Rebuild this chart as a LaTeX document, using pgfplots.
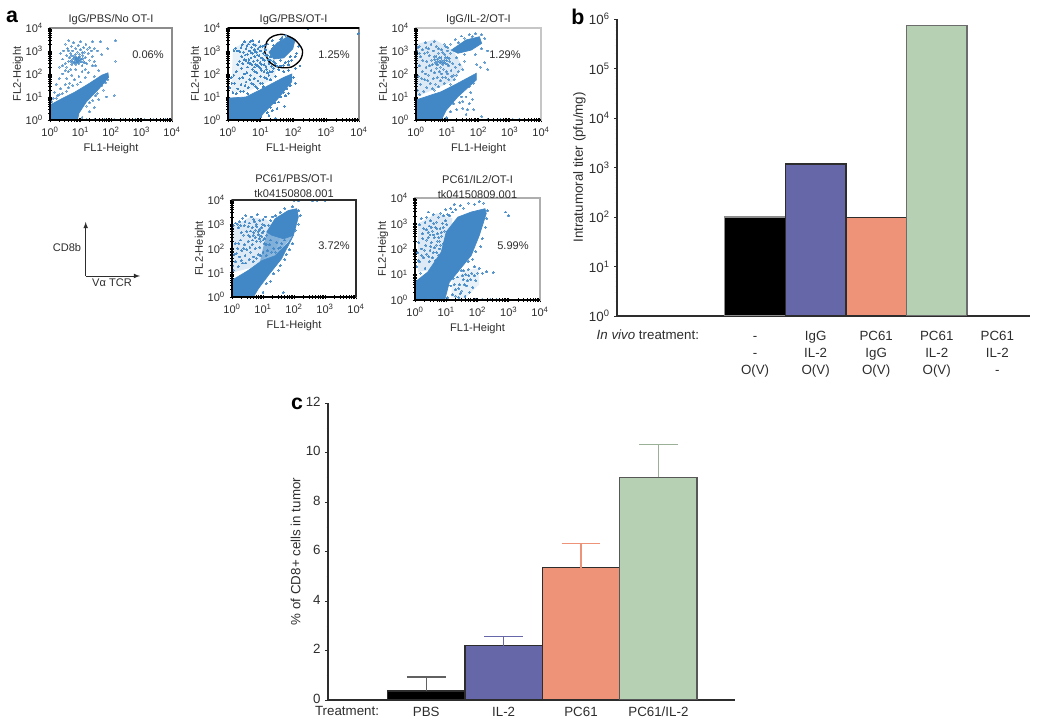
\documentclass[border=0pt]{standalone}
\usepackage{fontspec}
\setmainfont{Liberation Sans}
\usepackage{pgfplots}
\pgfplotsset{compat=1.18}
\definecolor{fc}{RGB}{66,136,198}
\definecolor{axg}{RGB}{140,140,140}
\definecolor{dk}{RGB}{45,45,45}
\definecolor{txt}{RGB}{45,45,45}
\definecolor{bblue}{RGB}{101,103,168}
\definecolor{bsalm}{RGB}{238,146,120}
\definecolor{bgreen}{RGB}{181,208,179}
\newcommand{\fa}{\fontsize{8.3}{11}\selectfont}
\newcommand{\fb}{\fontsize{10}{12.75}\selectfont}
% scatter panels: values are log10 of the channel
\pgfplotsset{
  facs/.style={
    scale only axis, xmin=0, xmax=4, ymin=0, ymax=4,
    xtick={0,1,2,3,4}, ytick={0,1,2,3,4},
    xticklabels={10\textsuperscript{0},10\textsuperscript{1},10\textsuperscript{2},10\textsuperscript{3},10\textsuperscript{4}},
    yticklabels={10\textsuperscript{0},10\textsuperscript{1},10\textsuperscript{2},10\textsuperscript{3},10\textsuperscript{4}},
    minor xtick={0.3,0.48,0.6,0.7,0.78,0.85,0.9,0.95,1.3,1.48,1.6,1.7,1.78,1.85,1.9,1.95,2.3,2.48,2.6,2.7,2.78,2.85,2.9,2.95,3.3,3.48,3.6,3.7,3.78,3.85,3.9,3.95},
    minor ytick={0.3,0.48,0.6,0.7,0.78,0.85,0.9,0.95,1.3,1.48,1.6,1.7,1.78,1.85,1.9,1.95,2.3,2.48,2.6,2.7,2.78,2.85,2.9,2.95,3.3,3.48,3.6,3.7,3.78,3.85,3.9,3.95},
    tick pos=left, tick align=center,
    major tick length=3.5pt, minor tick length=2.4pt,
    tick style={black, line width=.7pt}, minor tick style={black, line width=.4pt},
    axis line style={axg, line width=.9pt},
    tick label style={font=\fa, text=txt},
    xlabel={FL1-Height}, ylabel={FL2-Height},
    every axis x label/.style={font=\fa, text=txt, at={(axis description cs:0.5,0)},anchor=north,yshift=-14pt},
    every axis y label/.style={font=\fa, text=txt, at={(axis description cs:0,0.5)},xshift=-16.5pt,rotate=90,anchor=south},
    title style={font=\fa, text=txt, align=center, yshift=-7.5pt},
    after end axis/.code={\draw[black,line width=.9pt] (rel axis cs:0,1)--(rel axis cs:0,0)--(rel axis cs:1,0);},
  },
  pts/.style={only marks, color=fc, mark=*, mark size=.72pt, mark options={fill=fc, draw=fc, line width=0pt}, forget plot},
  dense/.style={fill=fc, draw=fc, line width=.5pt, forget plot},
  haze/.style={fill=fc, fill opacity=.18, draw=none, forget plot},
  barax/.style={
    scale only axis, axis lines=left, axis line style={-, dk, line width=.9pt},
    /pgf/number format/assume math mode=true,
    tick label style={font=\fb, text=txt},
    xtick style={draw=none}, ytick style={dk},
    major tick length=2pt, minor tick length=1pt, tick align=outside,
  },
  bx/.style={ybar, bar width=1, bar shift=0pt, draw=#1, line width=1pt},
}
\begin{document}
\begin{tikzpicture}
\path[use as bounding box] (0,0) rectangle (787.5pt,542.25pt);

% a1
\begin{axis}[facs, at={(37.5pt,452.25pt)}, width=91.5pt, height=69pt, title={IgG/PBS/No OT-I}]
\addplot[dense] coordinates {(0,0) (0,0.65) (0.35,0.9) (0.8,1.2) (1.3,1.6) (1.7,1.95) (1.9,2.05) (1.92,1.85) (1.6,1.35) (1.2,0.8) (0.95,0.3) (0.9,0) (0,0)};
\addplot[pts, opacity=.5] coordinates {
(0.3,2.3)(0.35,2.9)(0.42,2.65)(0.45,3.0)(0.5,2.45)(0.5,3.3)(0.55,2.8)(0.58,3.1)(0.6,2.55)(0.62,3.45)(0.65,2.7)(0.68,2.9)(0.7,3.2)(0.72,2.4)(0.72,2.6)(0.75,3.0)(0.78,2.75)(0.78,3.35)(0.8,2.55)(0.82,2.65)(0.83,2.85)(0.85,3.1)(0.87,2.5)(0.88,2.7)(0.9,2.6)(0.9,2.95)(0.92,3.25)(0.94,2.45)(0.95,2.7)(0.97,2.85)(0.98,2.55)(1.0,3.05)(1.0,3.4)(1.03,2.65)(1.05,2.35)(1.07,2.8)(1.1,2.55)(1.1,3.15)(1.13,2.95)(1.15,2.7)(1.18,3.3)(1.2,2.45)(1.25,2.9)(1.3,2.6)(1.3,3.15)(1.38,2.75)(1.4,3.4)(1.45,3.1)(1.5,2.35)(1.55,3.0)(1.65,3.4)(1.7,2.85)(1.9,3.1)(2.15,3.45)(2.15,2.55)
(0.86,2.62)(0.92,2.68)(0.8,2.48)(0.95,2.58)(1.02,2.52)(0.76,2.66)(0.85,2.42)(0.98,2.74)(1.08,2.66)(0.66,2.56)(0.9,2.52)(0.84,2.72)(0.74,2.5)(1.0,2.62)(0.88,2.58)(1.12,2.48)(0.7,2.8)(1.06,2.92)(0.6,3.0)(1.22,3.08)(1.45,2.55)(0.4,2.35)(0.55,2.3)(1.35,3.0)
(0.15,1.2)(0.2,1.55)(0.3,1.8)(0.35,1.35)(0.42,2.0)(0.5,1.55)(0.55,1.8)(0.6,2.1)(0.65,1.6)(0.72,1.95)(0.8,1.75)(0.85,2.2)(0.95,1.9)(1.05,2.1)(1.15,2.2)(1.25,2.05)(1.4,2.35)(0.25,1.05)(0.1,0.95)(0.4,1.15)(0.6,1.4)(0.9,1.55)(0.68,2.2)(0.5,2.15)(1.0,1.65)(1.15,1.85)(0.75,1.5)(0.3,1.1)(0.55,1.25)(0.05,0.8)(0.2,0.95)(1.45,1.9)(1.6,2.15)
(1.2,0.6)(1.4,0.85)(1.55,1.15)(1.6,0.9)(1.75,1.3)(1.85,1.0)(2.1,1.05)(1.9,1.75)(1.05,0.12)(1.3,0.35)(1.45,0.55)(1.3,0.75)(1.5,1.05)(1.7,1.5)(1.82,1.62)
(1.2,0.03)(1.45,0.03)(1.8,0.03)(2.1,0.03)(2.4,0.03)(2.8,0.03)(3.1,0.03)(3.4,0.03)(3.8,0.03)
};
\end{axis}

% a2
\begin{axis}[facs, at={(171pt,452.25pt)}, width=98.25pt, height=69pt, title={IgG/PBS/OT-I},
  after end axis/.append code={\draw[black,line width=1.1pt] (rel axis cs:0,1)--(rel axis cs:1,1);}]
\addplot[haze, fill opacity=.12] coordinates {(0.1,1.2) (0.15,3.1) (0.6,3.45) (1.2,3.2) (1.5,2.4) (1.4,1.8) (0.7,1.3) (0.1,1.2)};
\addplot[dense] coordinates {(0,0) (0,0.95) (0.55,1.0) (0.9,1.25) (1.3,1.55) (1.7,1.85) (1.95,2.0) (1.95,1.67) (1.49,0.87) (1.08,0.29) (0.93,0) (0,0)};
\addplot[dense] coordinates {(1.25,2.95) (1.5,3.35) (1.85,3.65) (2.05,3.5) (1.98,3.1) (1.7,2.7) (1.4,2.65) (1.25,2.95)};
\addplot[pts, mark size=.65pt] coordinates {
(0.3,3.0)(0.4,3.15)(0.42,2.75)(0.48,2.95)(0.5,3.4)(0.55,3.1)(0.55,2.6)(0.6,2.85)(0.62,3.3)(0.65,3.0)(0.68,2.45)(0.7,2.7)(0.72,3.15)(0.75,2.9)(0.75,3.45)(0.78,2.55)(0.8,3.05)(0.82,2.75)(0.85,3.25)(0.85,2.4)(0.88,2.95)(0.9,2.6)(0.92,3.1)(0.95,2.8)(0.95,3.4)(0.98,2.5)(1.0,3.0)(1.0,2.25)(1.03,2.7)(1.05,3.2)(1.08,2.9)(1.1,2.4)(1.12,2.6)(1.15,3.05)(1.18,2.2)(1.2,2.8)(1.22,3.3)(1.25,2.45)(1.28,2.1)(1.3,2.6)(1.35,3.45)
(0.18,3.02)(0.24,3.12)(0.36,2.98)(0.44,3.28)(0.52,2.82)(0.58,3.22)(0.64,2.62)(0.7,2.95)(0.78,3.28)(0.83,2.98)(0.9,2.82)(0.98,3.18)(1.02,2.42)(1.08,2.62)(1.14,2.82)(1.16,2.34)(1.23,2.62)(1.32,2.34)(0.73,2.42)(0.8,2.3)(0.9,2.36)(0.62,2.5)(0.5,2.62)(0.45,2.45)(0.35,2.55)(0.68,3.4)(1.12,3.25)
(0.05,1.4)(0.1,1.85)(0.15,1.2)(0.2,1.6)(0.25,2.1)(0.3,1.35)(0.3,2.4)(0.35,1.8)(0.4,1.55)(0.42,2.25)(0.48,1.25)(0.5,2.0)(0.55,1.65)(0.6,2.3)(0.62,1.4)(0.68,1.95)(0.72,1.6)(0.75,2.2)(0.8,1.8)(0.85,1.45)(0.88,2.05)(0.92,1.7)(0.95,2.3)(1.0,1.9)(1.05,1.6)(1.1,2.1)(1.18,1.8)(1.25,1.95)(1.35,2.1)(1.45,1.9)(1.55,2.2)(1.7,2.1)(1.85,2.15)(2.05,2.25)(2.2,2.35)
(0.12,1.6)(0.18,1.95)(0.25,1.15)(0.38,1.25)(0.45,1.85)(0.52,1.5)(0.58,2.05)(0.66,1.75)(0.78,1.55)(0.82,2.1)(0.98,1.6)(1.12,1.85)(1.2,2.05)(1.3,1.75)(1.4,2.25)(0.6,1.15)(0.9,1.38)(1.08,1.45)(1.02,2.15)
(1.45,2.45)(1.6,2.35)(1.75,2.5)(1.5,3.2)(1.35,3.1)(1.4,2.55)(1.6,2.6)(1.85,2.4)(1.95,2.6)(2.1,2.9)(2.15,3.2)(1.6,3.5)(1.75,3.68)(2.05,2.75)(1.5,2.35)(1.7,2.38)(1.9,2.75)(1.3,2.75)(1.85,2.55)(1.65,3.6)(1.4,3.25)
(1.0,0.15)(1.15,0.45)(1.25,0.2)(1.3,0.55)(1.42,0.75)(1.5,0.5)(1.6,1.0)(1.7,1.2)(1.8,1.35)(1.9,1.5)(2.0,1.85)(2.05,1.6)(1.72,0.6)(1.45,0.08)(1.2,0.32)(1.35,0.4)(1.55,0.78)(1.75,1.05)(1.85,1.15)
(3.98,3.75)(2.45,3.98)
};
\addplot[black, line width=1pt, smooth, mark=none, forget plot] coordinates {(1.12,2.98) (1.19,3.42) (1.37,3.64) (1.68,3.72) (2.04,3.49) (2.27,3.05) (2.21,2.62) (1.93,2.30) (1.53,2.30) (1.25,2.55) (1.12,2.98)};
\end{axis}

% a3
\begin{axis}[facs, at={(312pt,452.25pt)}, width=93.75pt, height=69pt, title={IgG/IL-2/OT-I},
  axis line style={axg!50, line width=.8pt}]
\addplot[haze] coordinates {(0,1.0) (0,3.3) (0.6,3.5) (1.2,3.0) (1.5,2.3) (1.2,1.7) (0.7,1.4) (0,1.0)};
\addplot[dense] coordinates {(0,0) (0,0.87) (0.81,1.23) (1.34,1.6) (1.93,2.03) (1.93,1.74) (1.34,1.01) (0.97,0.43) (0.81,0) (0,0)};
\addplot[dense] coordinates {(1.13,3.04) (1.6,3.48) (2.03,3.62) (2.1,3.33) (1.77,3.04) (1.34,2.9) (1.13,3.04)};
\addplot[pts, opacity=.55] coordinates {
(0.02,3.0)(0.1,3.2)(0.15,2.75)(0.2,3.05)(0.28,2.9)(0.3,3.35)(0.35,2.55)(0.4,3.1)(0.42,2.8)(0.48,3.3)(0.5,2.6)(0.52,2.4)(0.55,3.0)(0.58,2.75)(0.62,2.5)(0.65,3.2)(0.68,2.65)(0.7,2.4)(0.72,2.9)(0.75,2.55)(0.78,2.3)(0.8,2.7)(0.82,3.05)(0.85,2.5)(0.88,2.2)(0.9,2.6)(0.92,2.85)(0.95,2.45)(0.98,2.1)(1.0,2.7)(1.02,3.15)(1.05,2.35)(1.08,2.55)(1.1,2.9)(1.12,2.15)(1.18,2.45)(1.2,1.95)(1.25,2.3)(1.3,2.7)(1.35,2.1)(1.4,2.4)(1.5,2.2)(1.55,2.55)
(0.6,2.62)(0.66,2.42)(0.7,2.55)(0.74,2.7)(0.78,2.48)(0.82,2.6)(0.86,2.42)(0.9,2.5)(0.94,2.72)(0.98,2.58)(1.02,2.42)(1.06,2.68)(0.64,2.78)(0.72,3.1)(0.86,2.92)(0.22,2.6)(0.12,2.9)(0.38,2.95)(0.58,3.4)(0.9,3.3)(0.32,3.15)(0.05,3.15)
(0.05,1.3)(0.08,1.9)(0.1,2.35)(0.15,1.55)(0.2,2.1)(0.25,1.25)(0.28,1.75)(0.32,2.3)(0.35,1.4)(0.4,1.95)(0.45,1.6)(0.48,2.15)(0.52,1.35)(0.55,1.8)(0.6,2.05)(0.62,1.55)(0.68,1.85)(0.72,1.45)(0.78,1.7)(0.82,2.0)(0.9,1.6)(0.95,1.85)(1.05,1.75)(1.15,1.9)(1.3,1.95)
(0.12,1.1)(0.18,1.8)(0.3,2.0)(0.38,1.7)(0.44,2.35)(0.58,1.3)(0.65,2.25)(0.75,2.1)(0.85,1.85)(1.0,2.0)(1.1,1.55)(1.22,1.75)
(0.95,3.2)(1.1,3.3)(1.25,3.5)(1.45,3.65)(1.7,3.7)(1.9,3.75)(2.1,3.7)(2.2,3.55)(1.55,2.85)(1.9,2.85)(2.2,2.5)(2.3,2.2)(2.05,2.3)(2.3,3.0)(1.95,2.4)(1.35,3.35)(1.55,3.55)(1.8,3.62)(2.1,3.1)(1.0,3.0)
(0.98,0.1)(1.1,0.35)(1.3,0.45)(1.4,0.75)(1.5,0.5)(1.6,1.0)(1.7,0.7)(1.75,1.2)(1.85,0.45)(1.8,0.9)(1.6,0.25)(2.1,0.15)(2.3,0.03)(2.7,0.03)(3.1,0.03)(3.3,0.03)(1.2,0.7)(1.45,1.0)(1.7,1.45)(1.85,1.6)(1.5,0.8)(1.65,0.45)
};
\end{axis}

% a4
\begin{axis}[facs, at={(174pt,319.5pt)}, width=93pt, height=72.75pt, title={PC61/PBS/OT-I\\tk04150808.001},
  after end axis/.append code={\draw[dk,line width=.9pt] (rel axis cs:0,1)--(rel axis cs:1,1)--(rel axis cs:1,0);}]
\addplot[haze] coordinates {(0,1.0) (0,2.9) (0.6,3.3) (1.1,3.2) (1.6,2.6) (1.4,1.9) (0.6,1.2) (0,1.0)};
\addplot[haze, fill opacity=.6] coordinates {(0.9,1.45) (1.12,2.68) (1.98,2.54) (1.4,1.7) (0.9,1.45)};
\addplot[dense] coordinates {(0,0) (0,0.69) (0.53,1.1) (0.96,1.5) (1.39,1.7) (1.82,2.25) (1.98,2.54) (1.6,1.58) (1.17,0.89) (0.85,0.34) (0.69,0) (0,0)};
\addplot[dense] coordinates {(1.12,2.68) (1.39,3.23) (1.82,3.57) (2.09,3.64) (2.14,3.3) (1.98,2.54) (1.66,2.4) (1.28,2.55) (1.12,2.68)};
\addplot[pts, opacity=.7] coordinates {
(0.05,2.95)(0.12,3.05)(0.2,2.85)(0.25,3.1)(0.3,2.65)(0.35,3.25)(0.4,2.95)(0.45,3.35)(0.48,2.7)(0.55,3.05)(0.58,2.5)(0.62,3.3)(0.65,2.85)(0.7,2.65)(0.72,3.1)(0.75,2.45)(0.8,2.9)(0.82,3.4)(0.85,2.7)(0.88,2.55)(0.9,3.15)(0.92,2.3)(0.95,2.85)(0.98,2.65)(1.0,3.2)(1.05,2.4)(1.08,3.3)(1.1,2.15)
(0.6,2.72)(0.68,2.55)(0.76,2.75)(0.84,2.58)(0.9,2.78)(0.96,2.5)(1.02,2.72)(1.06,2.95)(0.78,3.0)(0.7,3.2)(0.52,2.9)(0.42,3.1)(0.28,2.95)(0.18,3.0)(0.88,2.4)(1.0,2.35)(0.66,2.35)(0.52,2.55)(0.38,2.55)(0.98,3.0)(1.12,2.55)(1.18,2.95)(1.25,3.15)(1.32,3.3)
(0.03,1.3)(0.08,1.75)(0.1,2.2)(0.12,1.45)(0.18,2.0)(0.2,1.25)(0.25,1.65)(0.28,2.35)(0.32,1.9)(0.35,1.4)(0.4,2.15)(0.42,1.7)(0.48,1.95)(0.52,2.3)(0.55,1.55)(0.6,1.85)(0.65,2.15)(0.7,1.65)(0.75,2.0)(0.8,2.3)(0.85,1.75)(0.9,2.05)(1.0,1.85)(1.05,2.2)(1.15,1.9)(1.2,2.15)(1.25,2.35)(1.35,2.0)(1.45,2.25)(1.5,2.0)(1.6,2.2)
(0.05,1.1)(0.15,1.8)(0.22,2.2)(0.3,1.5)(0.38,2.0)(0.45,1.4)(0.58,2.05)(0.68,1.45)(0.78,1.6)(0.92,1.7)(1.1,1.7)(1.28,1.85)(1.4,1.85)(1.55,2.05)(1.7,2.35)
(1.4,3.35)(1.55,3.5)(1.7,3.65)(1.95,3.72)(2.15,3.55)(2.2,3.35)(2.15,3.0)(2.05,2.75)(1.85,1.95)(1.95,2.2)(1.7,1.55)(1.5,1.1)(1.25,0.65)(1.0,0.2)(1.65,0.18)(2.0,3.97)(2.15,3.97)(2.6,3.97)(2.75,3.97)(3.0,3.97)(1.75,1.75)(1.55,1.3)(1.35,0.95)(1.1,0.55)
};
\end{axis}

% a5
\begin{axis}[facs, at={(311.25pt,317.25pt)}, width=93.75pt, height=76.5pt, title={PC61/IL2/OT-I\\tk04150809.001},
  title style={yshift=-2.5pt},
  axis line style={axg!70, line width=.8pt}]
\addplot[haze] coordinates {(0.1,1.1) (0.1,3.0) (0.7,3.4) (1.2,3.2) (1.1,2.0) (0.6,1.2) (0.1,1.1)};
\addplot[haze, fill opacity=.12] coordinates {(1.15,0.1) (1.2,0.8) (1.6,1.15) (2.05,1.25) (2.05,0.6) (1.6,0.05) (1.15,0.1)};
\addplot[dense] coordinates {(0,0) (0,0.7) (0.41,1.1) (0.84,1.88) (1,2.67) (1.37,3.25) (1.8,3.45) (2.24,3.58) (2.28,3.39) (2.06,2.54) (1.8,1.75) (1.37,1.1) (1.1,0.7) (0.95,0) (0,0)};
\addplot[pts, opacity=.65] coordinates {
(0.15,2.95)(0.2,3.2)(0.28,2.8)(0.32,3.05)(0.38,3.25)(0.42,2.65)(0.45,2.9)(0.5,3.1)(0.55,2.7)(0.58,3.35)(0.62,2.45)(0.65,2.85)(0.68,3.05)(0.72,2.6)(0.75,3.25)(0.78,2.3)(0.8,2.8)(0.82,3.4)(0.85,2.5)(0.88,3.0)(0.9,2.2)(0.92,3.3)(0.95,2.7)(0.98,3.55)(1.05,3.35)(1.15,3.6)(1.25,3.75)(1.45,3.7)(1.7,3.8)(1.9,3.75)(2.05,3.85)(2.2,3.8)(3.0,3.3)(2.9,3.45)
(0.24,2.6)(0.36,2.75)(0.48,2.55)(0.52,2.85)(0.6,3.0)(0.7,2.8)(0.76,2.45)(0.84,2.65)(0.9,2.85)(0.98,3.1)(1.02,2.95)(1.1,3.3)(1.2,3.45)(1.3,3.55)(1.55,3.6)(0.42,3.45)
(0.05,1.3)(0.08,1.85)(0.12,2.25)(0.15,1.5)(0.18,1.05)(0.2,2.0)(0.25,2.4)(0.28,1.65)(0.32,1.25)(0.35,2.15)(0.38,1.8)(0.42,2.45)(0.45,1.5)(0.48,1.95)(0.52,2.25)(0.55,1.65)(0.58,2.55)(0.62,2.05)(0.65,1.55)(0.7,1.85)(0.72,2.3)(0.78,2.0)(0.82,2.15)
(0.1,1.55)(0.22,1.75)(0.3,1.95)(0.38,2.35)(0.44,1.7)(0.5,2.1)(0.58,1.85)(0.68,2.15)(0.75,1.75)
(1.15,0.55)(1.2,0.2)(1.22,0.85)(1.3,0.4)(1.35,0.9)(1.4,0.1)(1.42,0.6)(1.48,1.15)(1.5,0.35)(1.55,0.8)(1.6,0.15)(1.62,1.0)(1.65,0.55)(1.7,1.2)(1.75,0.3)(1.78,0.8)(1.82,1.05)(1.85,0.5)(1.9,1.3)(1.95,0.75)(2.0,1.05)(2.05,1.25)(2.15,1.05)(2.3,1.1)(2.5,1.08)(1.95,0.03)(2.15,0.03)(2.4,0.03)(2.6,0.03)
(1.25,0.6)(1.4,0.45)(1.52,0.95)(1.58,0.6)(1.72,0.95)(1.9,0.95)(1.68,0.75)(1.45,0.25)(1.3,0.15)(1.05,0.08)
(2.3,3.2)(2.25,2.85)(2.15,2.4)(1.95,1.9)(1.7,1.5)(1.45,2.6)(1.2,2.2)(2.32,3.5)(2.1,2.1)(1.85,1.6)(1.55,1.15)
};
\end{axis}

% b
\begin{axis}[barax, ymode=log, at={(462.75pt,305.25pt)}, width=309.75pt, height=222.75pt,
  xmin=-2.28, xmax=4.54, ymin=1, ymax=1000000,
  xtick={0,1,2,3,4},
  xticklabels={{\strut -\\-\\O(V)},{\strut IgG\\IL-2\\O(V)},{\strut PC61\\IgG\\O(V)},{\strut PC61\\IL-2\\O(V)},{\strut PC61\\IL-2\\-}},
  xticklabel style={align=center, yshift=-3.75pt},
  ytick={1,10,100,1000,10000,100000,1000000},
  yticklabels={10\textsuperscript{0},10\textsuperscript{1},10\textsuperscript{2},10\textsuperscript{3},10\textsuperscript{4},10\textsuperscript{5},10\textsuperscript{6}},
  ylabel={Intratumoral titer (pfu/mg)},
  every axis y label/.style={font=\fb, text=txt, at={(axis description cs:0,0.5)},xshift=-20pt,rotate=90,anchor=south}]
\addplot[bx=axg, fill=black] coordinates {(0,100)};
\addplot[bx=dk, fill=bblue] coordinates {(1,1175)};
\addplot[bx=dk, fill=bsalm] coordinates {(2,98)};
\addplot[bx=dk!70, fill=bgreen] coordinates {(3,740000)};
\addplot[bx=dk, fill=white] coordinates {(4,1)};
\end{axis}

% c
\begin{axis}[barax, at={(246pt,17.25pt)}, width=305.25pt, height=222.75pt,
  xmin=-1.27, xmax=3.99, ymin=0, ymax=12,
  xtick={0,1,2,3}, xticklabels={PBS,IL-2,PC61,PC61/IL-2},
  typeset ticklabels with strut, xticklabel style={yshift=2.2pt},
  ytick={0,2,4,6,8,10,12}, minor y tick num=1,
  ylabel={\% of CD8+ cells in tumor},
  every axis y label/.style={font=\fb, text=txt, at={(axis description cs:0,0.5)},xshift=-17pt,rotate=90,anchor=south}]
\addplot[bx=dk, fill=black, error bars/.cd, y dir=plus, y explicit, error bar style={line width=.8pt, color=dk!75}, error mark options={rotate=90, mark size=14.6pt, line width=.8pt, color=dk!75}] coordinates {(0,0.37) +- (0,0.56)};
\addplot[bx=dk, fill=bblue, error bars/.cd, y dir=plus, y explicit, error bar style={line width=.8pt, color=bblue}, error mark options={rotate=90, mark size=14.6pt, line width=.8pt, color=bblue}] coordinates {(1,2.2) +- (0,0.37)};
\addplot[bx=dk, fill=bsalm, error bars/.cd, y dir=plus, y explicit, error bar style={line width=.8pt, color=bsalm}, error mark options={rotate=90, mark size=14.6pt, line width=.8pt, color=bsalm}] coordinates {(2,5.35) +- (0,0.97)};
\addplot[bx=dk!80, fill=bgreen, error bars/.cd, y dir=plus, y explicit, error bar style={line width=.8pt, color=bgreen!85!black}, error mark options={rotate=90, mark size=14.6pt, line width=.8pt, color=bgreen!85!black}] coordinates {(3,9.0) +- (0,1.33)};
\end{axis}

% annotations, placed in reference pixels
\node[font=\fa,text=txt] at (148*.75pt,668*.75pt) {0.06\%};
\node[font=\fa,text=txt] at (334*.75pt,668*.75pt) {1.25\%};
\node[font=\fa,text=txt] at (505*.75pt,668*.75pt) {1.29\%};
\node[font=\fa,text=txt] at (334*.75pt,477*.75pt) {3.72\%};
\node[font=\fa,text=txt] at (513*.75pt,477*.75pt) {5.99\%};
\draw[dk,line width=.6pt,-latex] (85.7*.75pt,447*.75pt)--(85.7*.75pt,501*.75pt);
\draw[dk,line width=.6pt,-latex] (85.7*.75pt,447*.75pt)--(140*.75pt,447*.75pt);
\node[font=\fa,text=txt] at (67*.75pt,475*.75pt) {CD8b};
\node[font=\fa,text=txt] at (112*.75pt,440*.75pt) {Vα TCR};
\node[font=\fb,text=txt,anchor=west] at (592*.75pt,388*.75pt) {\textit{In vivo} treatment:};
\node[font=\fb,text=txt] at (347*.75pt,12*.75pt) {Treatment:};
\node[font=\fontsize{16}{16}\selectfont\bfseries] at (12*.75pt,706*.75pt) {a};
\node[font=\fontsize{16}{16}\selectfont\bfseries] at (578*.75pt,706*.75pt) {b};
\node[font=\fontsize{16}{16}\selectfont\bfseries] at (297*.75pt,319*.75pt) {c};
\end{tikzpicture}
\end{document}
